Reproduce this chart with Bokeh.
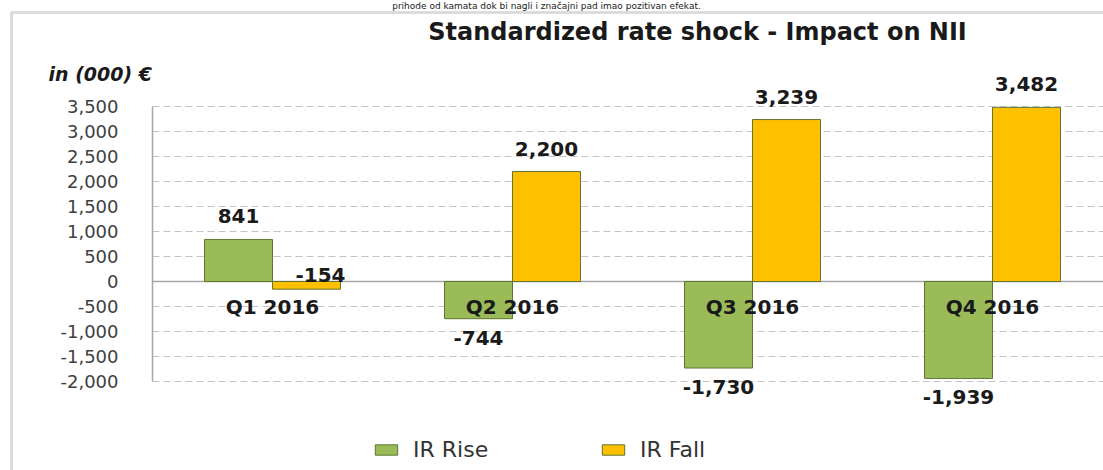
import numpy as np
from bokeh.plotting import figure
from bokeh.models import (ColumnDataSource, FixedTicker, NumeralTickFormatter, Label,
                          Legend, LegendItem, BoxAnnotation, Range1d)
from bokeh.transform import dodge
from bokeh.core.properties import value
from bokeh.embed import file_html
from bokeh.resources import INLINE

# ---------------- data ----------------
categories = ["Q1 2016", "Q2 2016", "Q3 2016", "Q4 2016"]
ir_rise = [841, -744, -1730, -1939]
ir_fall = [-154, 2200, 3239, 3482]
series_names = ["IR Rise", "IR Fall"]
y_ticks = [-2000, -1500, -1000, -500, 0, 500, 1000, 1500, 2000, 2500, 3000, 3500]
title_text = "Standardized rate shock - Impact on NII"
unit_text = "in (000) €"
page_text = "prihode od kamata dok bi nagli i značajni pad imao pozitivan efekat."

# ---------------- style ----------------
GREEN = "#9bbb59"
ORANGE = "#ffc000"
EDGE = "#5f7530"
AXIS = "#a6a6a6"
FONT = "DejaVu Sans"

W, H = 1103, 470
axis_px = 152.0          # x pixel of the value axis
px_per_cat = 240.0
px_per_unit = 0.05
zero_px = 281.0          # y pixel of the zero line

x_start = -axis_px / px_per_cat
x_end = (W - axis_px) / px_per_cat
y_end = zero_px / px_per_unit
y_start = -(H - zero_px) / px_per_unit


def px_y(py):
    return (zero_px - py) / px_per_unit


def px_x(px):
    return (px - axis_px) / px_per_cat


p = figure(width=W, height=H, x_range=Range1d(x_start, x_end),
           y_range=Range1d(y_start, y_end),
           output_backend="svg", toolbar_location=None, x_axis_location=None,
           y_axis_location="left",
           min_border_left=0, min_border_right=0, min_border_top=0, min_border_bottom=0)
p.outline_line_color = None
p.background_fill_color = "white"
p.border_fill_color = "white"
p.xgrid.visible = False
p.ygrid.visible = False

# value axis, fixed at x = 0
p.yaxis.fixed_location = 0
p.yaxis.bounds = (min(y_ticks), max(y_ticks))
p.yaxis.ticker = FixedTicker(ticks=y_ticks)
p.yaxis.formatter = NumeralTickFormatter(format="0,0")
p.yaxis.axis_line_color = AXIS
p.yaxis.axis_line_width = 1.5
p.yaxis.major_tick_line_color = None
p.yaxis.minor_tick_line_color = None
p.yaxis.major_tick_out = 0
p.yaxis.major_tick_in = 0
p.yaxis.major_label_standoff = 34
p.yaxis.major_label_text_font = FONT
p.yaxis.major_label_text_font_size = "18px"
p.yaxis.major_label_text_color = "#404040"

# gridlines from the value axis to the right edge
grid_y = [t for t in y_ticks if t != 0]
p.segment(x0=0, x1=x_end, y0=grid_y, y1=grid_y, line_color="#c4c4c4",
          line_dash="7 4", line_width=1)
p.segment(x0=[0], x1=[x_end], y0=[0], y1=[0], line_color=AXIS, line_width=1.5)

# bars
idx = np.arange(len(categories)) + 0.5
bw = 68.0 / px_per_cat
src = ColumnDataSource(dict(x=idx, rise=ir_rise, fall=ir_fall, cat=categories))
r_rise = p.vbar(x=dodge("x", -bw / 2, range=p.x_range), top="rise", bottom=0, width=bw,
                source=src, fill_color=GREEN, line_color=EDGE, line_width=1)
r_fall = p.vbar(x=dodge("x", bw / 2, range=p.x_range), top="fall", bottom=0, width=bw,
                source=src, fill_color=ORANGE, line_color=EDGE, line_width=1)

# data labels: above positive bars, below large negative bars,
# just above the axis for small negative bars
above = dict(x=[], y=[], t=[])
below = dict(x=[], y=[], t=[])
near = dict(x=[], y=[], t=[])
for off, vals in ((-bw / 2, ir_rise), (bw / 2, ir_fall)):
    for xi, v in zip(idx, vals):
        lab = f"{v:,}"
        if v >= 0:
            grp = above
        elif v > -300:
            grp = near
        else:
            grp = below
        grp["x"].append(xi + off); grp["y"].append(max(v, 0) if grp is not below else v)
        grp["t"].append(lab)

lab_style = dict(text_align="center", text_font=value(FONT), text_font_style="bold",
                 text_font_size="20px", text_color="#1a1a1a")
p.text(x="x", y="y", text="t", source=ColumnDataSource(above), text_baseline="bottom",
       y_offset=-16, **lab_style)
p.text(x="x", y="y", text="t", source=ColumnDataSource(near), text_baseline="bottom",
       y_offset=0, x_offset=14, **lab_style)
p.text(x="x", y="y", text="t", source=ColumnDataSource(below), text_baseline="top",
       y_offset=12, **lab_style)

# category labels next to the axis
p.text(x="x", y=0, text="cat", source=src, text_align="center", text_baseline="middle",
       y_offset=25, text_font=value(FONT), text_font_style="bold", text_font_size="20px",
       text_color="#1a1a1a")

# texts: page text at the top, title, unit
p.add_layout(Label(x=px_x(546), y=px_y(0), text=page_text, text_align="center",
                   text_baseline="top", text_font=FONT, text_font_size="9px",
                   text_color="#1a1a1a"))
p.add_layout(Label(x=px_x(697), y=px_y(31), text=title_text, text_align="center",
                   text_baseline="middle", text_font=FONT, text_font_style="bold",
                   text_font_size="24px", text_color="#1a1a1a"))
p.add_layout(Label(x=px_x(48), y=px_y(73), text=unit_text, text_align="left",
                   text_baseline="middle", text_font=FONT, text_font_style="bold italic",
                   text_font_size="19px", text_color="#1a1a1a"))

# legends
for name, r, lx in ((series_names[0], r_rise, 372), (series_names[1], r_fall, 599)):
    leg = Legend(items=[LegendItem(label=name, renderers=[r])], location=(lx, 8),
                 orientation="horizontal", padding=0, margin=0, spacing=0,
                 glyph_width=28, glyph_height=13, label_standoff=13,
                 label_text_font=FONT, label_text_font_size="22px",
                 label_text_color="#333333", border_line_color=None,
                 background_fill_alpha=0)
    p.add_layout(leg)

# outer chart border
p.add_layout(BoxAnnotation(left=11, right=W + 60, top=12, bottom=H + 60,
                           left_units="canvas", right_units="canvas",
                           top_units="canvas", bottom_units="canvas",
                           fill_alpha=0, line_color="#8c8c8c", line_width=3))

open("out.html", "w").write(file_html(p, INLINE))
